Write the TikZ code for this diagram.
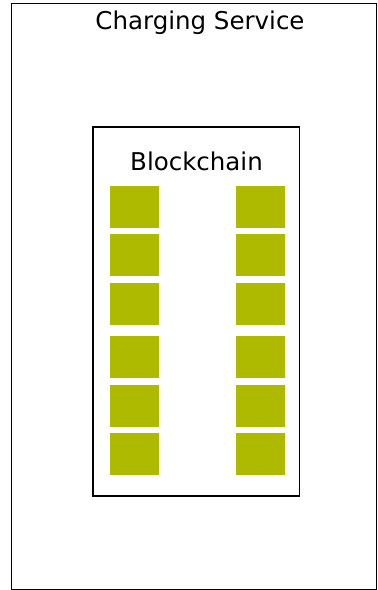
\documentclass[tikz,border=0pt]{standalone}
\usepackage{fontspec}
\setmainfont{DejaVu Sans}
\definecolor{blockgreen}{RGB}{173,186,0}
\tikzset{
  frame/.style={draw=black, line width=1pt, fill=none},
  blk/.style={fill=blockgreen, draw=none, minimum width=49pt, minimum height=42pt, inner sep=0pt, anchor=north west},
  title/.style={font=\fontsize{24.5}{28}\selectfont, inner sep=0pt, anchor=base}
}
\begin{document}
\begin{tikzpicture}[x=1pt,y=-1pt]
\useasboundingbox (0,0) rectangle (378,590);
\draw[frame] (11.5,3.5) rectangle (376.5,589.5);
\node[title] (svc) at (200,29.5) {Charging Service};
\draw[frame, line width=1.4pt] (93,127) rectangle (299.5,496);
\node[title] (bc) at (196.5,170) {Blockchain};
\foreach \i/\y in {1/186,2/234,3/283,4/336,5/385,6/433}{
  \node[blk] (l\i) at (110,\y) {};
  \node[blk] (r\i) at (236,\y) {};
}
\end{tikzpicture}
\end{document}
